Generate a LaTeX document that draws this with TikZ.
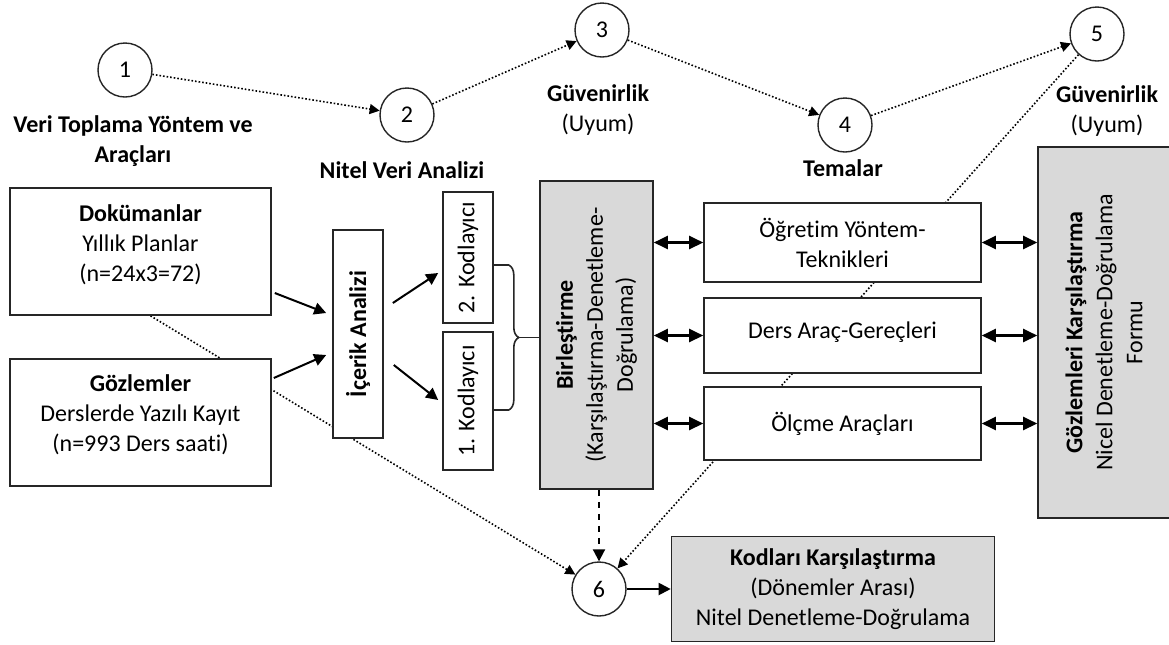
\documentclass[tikz,border=0pt]{standalone}
\usepackage{fontspec}
\setmainfont{Carlito}[Ligatures=NoCommon]
\usetikzlibrary{arrows.meta,positioning,backgrounds,calc,decorations.pathreplacing}
\definecolor{kutugri}{HTML}{D9D9D9}
\definecolor{cizgi}{HTML}{262626}

\begin{document}
\begin{tikzpicture}[x=0.5pt,y=0.5pt,
    font=\fontsize{12}{15}\selectfont,
    kutu/.style={draw=cizgi,line width=0.8pt,fill=white,align=center,inner sep=2pt},
    grikutu/.style={kutu,fill=kutugri},
    numara/.style={draw=cizgi,line width=0.7pt,circle,fill=white,minimum size=27pt,inner sep=0pt},
    baslik/.style={align=center,font=\fontsize{12}{15}\selectfont\bfseries},
    noktali/.style={densely dotted,line width=0.8pt,-{Triangle[length=5pt,width=5pt]}},
    ok/.style={line width=1pt,-{Triangle[length=6pt,width=6pt]}},
    ciftok/.style={line width=1.2pt,{Triangle[length=7pt,width=6.5pt]}-{Triangle[length=7pt,width=6.5pt]}}]

  \clip (0,0) rectangle (1169,-644);

  % numarali halkalar
  \node[numara] (n1) at (125,-70) {1};
  \node[numara] (n2) at (407,-115) {2};
  \node[numara] (n3) at (602,-30) {3};
  \node[numara] (n4) at (845,-125) {4};
  \node[numara] (n5) at (1097,-34) {5};
  \node[numara] (n6) at (599,-589) {6};

  % basliklar
  \node[baslik] (veri) at (133,-141) {Veri Toplama Yöntem ve\\Araçları};
  \node[baslik] (nitel) at (402,-170) {Nitel Veri Analizi};
  \node[align=center] (guv1) at (598,-110) {\textbf{Güvenirlik}\\(Uyum)};
  \node[baslik] (temalar) at (843,-168) {Temalar};
  \node[align=center] (guv2) at (1107,-111) {\textbf{Güvenirlik}\\(Uyum)};

  % veri kaynaklari
  \node[kutu,minimum width=130.5pt,minimum height=63.5pt] (dok) at (140.5,-251.5)
    {\textbf{Dokümanlar}\\Yıllık Planlar\\(n=24x3=72)\\[-6.5pt]\mbox{}};
  \node[kutu,minimum width=130.5pt,minimum height=63.5pt] (goz) at (140.5,-422.5)
    {\textbf{Gözlemler}\\Derslerde Yazılı Kayıt\\(n=993 Ders saati)\\[-5.5pt]\mbox{}};

  % analiz
  \node[kutu,rotate=90,minimum width=104pt,minimum height=25pt,font=\fontsize{12}{15}\selectfont\bfseries] (icerik) at (358,-334) {İçerik Analizi};
  \node[kutu,rotate=90,minimum width=65.5pt,minimum height=25pt] (kod2) at (468,-257.5) {2. Kodlayıcı};
  \node[kutu,rotate=90,minimum width=69pt,minimum height=25pt] (kod1) at (468,-401) {1. Kodlayıcı};
  \node[grikutu,rotate=90,minimum width=154pt,minimum height=56.5pt] (birl) at (596.5,-335)
    {\textbf{Birleştirme}\\(Karşılaştırma-Denetleme-\\Doğrulama)};

  % temalar
  \node[kutu,minimum width=138.5pt,minimum height=39.5pt] (tema1) at (842.5,-242.5) {Öğretim Yöntem-\\Teknikleri};
  \node[kutu,minimum width=138.5pt,minimum height=37.5pt] (tema2) at (842.5,-335.5) {Ders Araç-Gereçleri\\[-9.5pt]\mbox{}};
  \node[kutu,minimum width=138.5pt,minimum height=36.5pt] (tema3) at (842.5,-423.5) {Ölçme Araçları};

  \node[grikutu,rotate=90,minimum width=185.5pt,minimum height=66pt] (gozk) at (1104,-332.5)
    {\textbf{Gözlemleri Karşılaştırma}\\Nicel Denetleme-Doğrulama\\Formu};
  \node[grikutu,minimum width=161.5pt,minimum height=52.5pt] (kodk) at (833,-589)
    {\textbf{Kodları Karşılaştırma}\\(Dönemler Arası)\\Nitel Denetleme-Doğrulama};

  % kutularin arkasindan gecen cizgiler
  \begin{scope}[on background layer]
    \fill[white] (0,0) rectangle (1169,-644);
    \draw[noktali] (n5) -- (n6);
    \draw[noktali] ($(dok.south)+(10,0)$) -- (n6);
  \end{scope}

  % halkalar arasi
  \draw[noktali] (n1) -- (n2);
  \draw[noktali] (n2) -- (n3);
  \draw[noktali] (n3) -- (n4);
  \draw[noktali] (n4) -- (n5);

  \draw[ok] ($(dok.east)+(3,-41.5)$) -- ($(icerik.north)+(-6,21)$);
  \draw[ok] ($(goz.east)+(2,44.5)$) -- ($(icerik.north)+(-6,-21)$);
  \draw[ok] ($(icerik.south)+(9,31)$) -- ($(kod2.north)+(-4,-15.5)$);
  \draw[ok] ($(icerik.south)+(10,-31)$) -- ($(kod1.north)+(-4,1)$);

  % kodlayicilari birlestiren parantez
  \draw[line width=0.8pt,draw=cizgi] ($(kod2.south)+(0,-7.5)$) -- ++(15,0) coordinate (pt);
  \draw[line width=0.8pt,draw=cizgi] ($(kod1.south)+(0,-9)$) -- ++(15,0) coordinate (pb);
  \draw[line width=0.8pt,draw=cizgi,decorate,decoration={brace,amplitude=5pt}] (pt) -- (pb);
  \draw[line width=0.8pt,draw=cizgi] ($(pt)!0.5!(pb)+(10,0)$) -- (birl.north |- {$(pt)!0.5!(pb)$});

  % temalarla iki yonlu oklar
  \foreach \t in {tema1,tema2,tema3}{
    \draw[ciftok] (birl.south |- \t.west) -- (\t.west);
    \draw[ciftok] (\t.east) -- (gozk.north |- \t.east);
  }

  \draw[dashed,line width=1pt,-{Triangle[length=6pt,width=6pt]}] (birl.west -| n6) -- (n6.north);
  \draw[ok] (n6) -- (n6 -| kodk.west);
\end{tikzpicture}
\end{document}
